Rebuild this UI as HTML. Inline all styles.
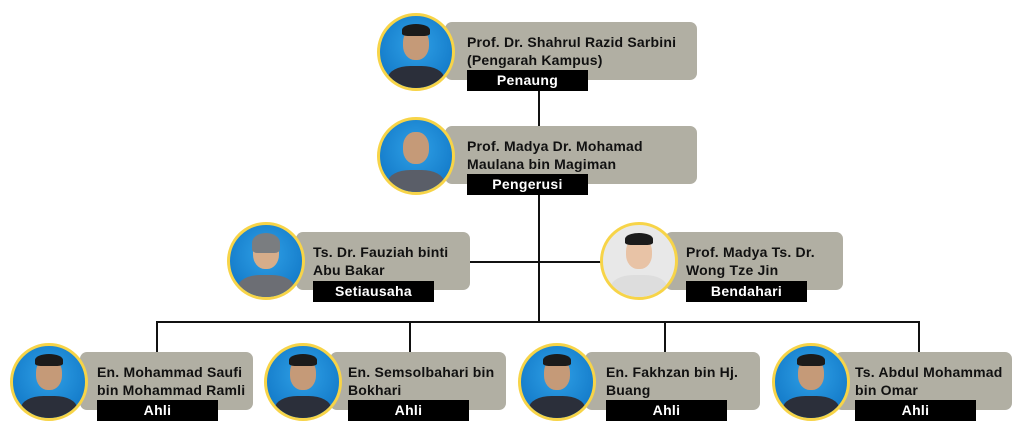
<!DOCTYPE html>
<html><head><meta charset="utf-8"><style>
body{margin:0;width:1024px;height:432px;background:#fff;position:relative;overflow:hidden;font-family:"Liberation Sans",sans-serif}
.box{position:absolute;background:#b1afa3;border-radius:7px}
.t{position:absolute;font-weight:bold;font-size:14px;letter-spacing:0.2px;line-height:18px;color:#111;white-space:nowrap}
.lb{position:absolute;background:#000;color:#fff;font-weight:bold;font-size:14px;letter-spacing:0.3px;text-align:center;height:21px;line-height:21px;width:121px}
.c{position:absolute;width:72px;height:72px;border-radius:50%;border:3px solid #f7d448;background:radial-gradient(circle at 50% 40%,#2fa0e6,#0b6fc0);overflow:hidden}
.c .h{position:absolute;left:23px;top:12px;width:26px;height:32px;border-radius:45%;background:#c59a78}
.c .b{position:absolute;left:8px;top:50px;width:56px;height:30px;border-radius:40% 40% 0 0;background:#2b2f3a}
.c .hr{position:absolute;left:22px;top:8px;width:28px;height:12px;border-radius:50% 50% 20% 20%;background:#1b1b1b}
.ln{position:absolute;background:#111}
</style></head><body>
<div class="ln" style="left:538px;top:90px;width:2px;height:36px"></div>
<div class="ln" style="left:538px;top:194px;width:2px;height:129px"></div>
<div class="ln" style="left:470px;top:261px;width:195px;height:2px"></div>
<div class="ln" style="left:156px;top:321px;width:764px;height:2px"></div>
<div class="ln" style="left:156px;top:321px;width:2px;height:32px"></div>
<div class="ln" style="left:409px;top:321px;width:2px;height:32px"></div>
<div class="ln" style="left:664px;top:321px;width:2px;height:32px"></div>
<div class="ln" style="left:918px;top:321px;width:2px;height:32px"></div>

<div class="box" style="left:445px;top:22px;width:252px;height:58px"></div>
<div class="c" style="left:377px;top:13px"><div class="b"></div><div class="h"></div><div class="hr"></div></div>
<div class="t" style="left:467px;top:33px">Prof. Dr. Shahrul Razid Sarbini<br>(Pengarah Kampus)</div>
<div class="lb" style="left:467px;top:70px">Penaung</div>

<div class="box" style="left:445px;top:126px;width:252px;height:58px"></div>
<div class="c" style="left:377px;top:117px"><div class="b" style="background:#5a5e68"></div><div class="h"></div></div>
<div class="t" style="left:467px;top:137px">Prof. Madya Dr. Mohamad<br>Maulana bin Magiman</div>
<div class="lb" style="left:467px;top:174px">Pengerusi</div>

<div class="box" style="left:296px;top:232px;width:174px;height:58px"></div>
<div class="c" style="left:227px;top:222px"><div class="b" style="background:#6c6e74"></div><div class="h" style="background:#d6ad8a"></div><div class="hr" style="background:#7a7d80;height:20px"></div></div>
<div class="t" style="left:313px;top:243px">Ts. Dr. Fauziah binti<br>Abu Bakar</div>
<div class="lb" style="left:313px;top:281px">Setiausaha</div>

<div class="box" style="left:665px;top:232px;width:178px;height:58px"></div>
<div class="c" style="left:600px;top:222px;background:#e8e8e8"><div class="b" style="background:#ddd"></div><div class="h" style="background:#e8c3a6"></div><div class="hr"></div></div>
<div class="t" style="left:686px;top:243px">Prof. Madya Ts. Dr.<br>Wong Tze Jin</div>
<div class="lb" style="left:686px;top:281px">Bendahari</div>

<div class="box" style="left:80px;top:352px;width:173px;height:58px"></div>
<div class="c" style="left:10px;top:343px"><div class="b"></div><div class="h"></div><div class="hr"></div></div>
<div class="t" style="left:97px;top:363px">En. Mohammad Saufi<br>bin Mohammad Ramli</div>
<div class="lb" style="left:97px;top:400px">Ahli</div>

<div class="box" style="left:330px;top:352px;width:176px;height:58px"></div>
<div class="c" style="left:264px;top:343px"><div class="b"></div><div class="h"></div><div class="hr"></div></div>
<div class="t" style="left:348px;top:363px">En. Semsolbahari bin<br>Bokhari</div>
<div class="lb" style="left:348px;top:400px">Ahli</div>

<div class="box" style="left:585px;top:352px;width:175px;height:58px"></div>
<div class="c" style="left:518px;top:343px"><div class="b"></div><div class="h"></div><div class="hr"></div></div>
<div class="t" style="left:606px;top:363px">En. Fakhzan bin Hj.<br>Buang</div>
<div class="lb" style="left:606px;top:400px">Ahli</div>

<div class="box" style="left:835px;top:352px;width:177px;height:58px"></div>
<div class="c" style="left:772px;top:343px"><div class="b"></div><div class="h"></div><div class="hr"></div></div>
<div class="t" style="left:855px;top:363px">Ts. Abdul Mohammad<br>bin Omar</div>
<div class="lb" style="left:855px;top:400px">Ahli</div>
</body></html>
